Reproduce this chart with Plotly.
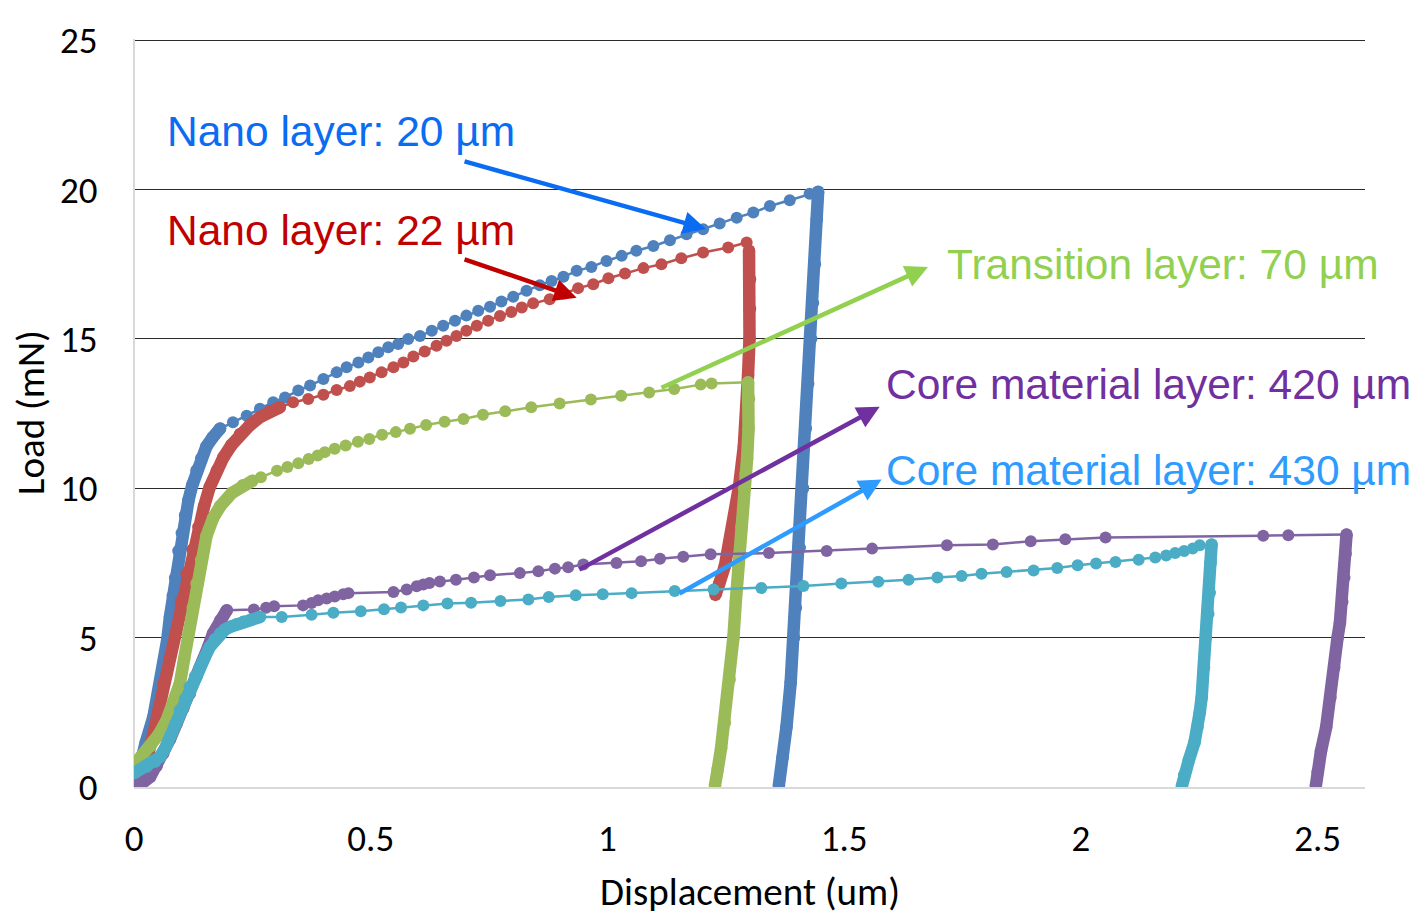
import plotly.graph_objects as go

# ---------------- data (displacement in um, load in mN) ----------------
# Nano layer 20 um (blue)
blue_load_x = [0.004, 0.013, 0.025, 0.041, 0.052, 0.062, 0.070, 0.076, 0.082, 0.087, 0.094, 0.101, 0.108, 0.115, 0.123, 0.132, 0.142, 0.153, 0.166, 0.182]
blue_load_y = [0.2, 0.9, 1.5, 2.35, 3.2, 4.0, 4.9, 5.7, 6.4, 7.0, 7.9, 8.5, 9.1, 9.6, 10.1, 10.6, 11.0, 11.4, 11.7, 12.0]
blue_mid_x = [0.209, 0.238, 0.266, 0.294, 0.319, 0.347, 0.372, 0.400, 0.428, 0.449, 0.474, 0.495, 0.516, 0.537, 0.558, 0.579, 0.604, 0.629, 0.653, 0.678, 0.702, 0.727, 0.752, 0.776, 0.801, 0.829, 0.857, 0.882, 0.907, 0.935, 0.966, 0.998, 1.030, 1.061, 1.097, 1.132, 1.167, 1.202, 1.237, 1.273, 1.308, 1.343, 1.385, 1.427]
blue_mid_y = [12.21, 12.43, 12.66, 12.88, 13.04, 13.27, 13.44, 13.66, 13.88, 14.05, 14.21, 14.38, 14.55, 14.72, 14.83, 15.0, 15.1, 15.27, 15.44, 15.61, 15.78, 15.94, 16.08, 16.25, 16.41, 16.61, 16.80, 16.94, 17.08, 17.28, 17.41, 17.61, 17.78, 17.95, 18.11, 18.30, 18.50, 18.67, 18.86, 19.06, 19.23, 19.45, 19.64, 19.86]
blue_unl_x = [1.445, 1.442, 1.438, 1.434, 1.430, 1.424, 1.419, 1.413, 1.406, 1.398, 1.394, 1.387, 1.378, 1.370, 1.362]
blue_unl_y = [19.93, 19.0, 17.5, 16.2, 15.0, 13.5, 12.0, 10.0, 8.0, 6.0, 5.0, 3.5, 2.0, 1.0, 0.05]

# Nano layer 22 um (red)
red_load_x = [0.003, 0.015, 0.030, 0.041, 0.052, 0.062, 0.075, 0.087, 0.099, 0.111, 0.124, 0.136, 0.148, 0.160, 0.175, 0.189, 0.206, 0.224, 0.244, 0.266, 0.287, 0.308]
red_load_y = [0.1, 0.5, 1.1, 1.79, 2.6, 3.47, 4.3, 5.14, 6.2, 7.14, 7.95, 8.7, 9.4, 10.04, 10.6, 11.04, 11.45, 11.82, 12.1, 12.38, 12.58, 12.71]
red_mid_x = [0.336, 0.368, 0.400, 0.428, 0.456, 0.477, 0.498, 0.523, 0.548, 0.569, 0.590, 0.614, 0.639, 0.660, 0.681, 0.702, 0.724, 0.748, 0.773, 0.797, 0.819, 0.843, 0.878, 0.907, 0.938, 0.970, 1.002, 1.037, 1.076, 1.114, 1.156, 1.202, 1.255, 1.294]
red_mid_y = [12.88, 12.99, 13.13, 13.29, 13.42, 13.57, 13.71, 13.88, 14.05, 14.21, 14.41, 14.58, 14.77, 14.94, 15.10, 15.27, 15.44, 15.61, 15.77, 15.90, 16.05, 16.19, 16.33, 16.52, 16.70, 16.83, 17.03, 17.19, 17.37, 17.50, 17.70, 17.89, 18.06, 18.23]
red_unl_x = [1.299, 1.301, 1.301, 1.300, 1.297, 1.294, 1.288, 1.278, 1.265, 1.248, 1.236, 1.228]
red_unl_y = [17.95, 17.0, 16.0, 15.0, 13.8, 12.7, 11.4, 10.07, 8.75, 7.4, 6.8, 6.43]

# Transition layer 70 um (green)
green_load_x = [0.0, 0.015, 0.034, 0.052, 0.069, 0.084, 0.097, 0.106, 0.115, 0.124, 0.132, 0.142, 0.153, 0.167, 0.182, 0.207, 0.230, 0.250]
green_load_y = [0.73, 1.0, 1.35, 1.75, 2.24, 2.8, 3.47, 4.3, 5.14, 6.0, 6.81, 7.6, 8.4, 9.0, 9.4, 9.85, 10.1, 10.25]
green_mid_x = [0.268, 0.302, 0.324, 0.347, 0.369, 0.388, 0.403, 0.424, 0.447, 0.473, 0.497, 0.524, 0.553, 0.583, 0.617, 0.656, 0.696, 0.737, 0.784, 0.839, 0.899, 0.965, 1.029, 1.088, 1.141, 1.197, 1.220]
green_mid_y = [10.37, 10.59, 10.71, 10.84, 10.98, 11.10, 11.21, 11.32, 11.43, 11.56, 11.65, 11.79, 11.88, 11.99, 12.12, 12.23, 12.32, 12.46, 12.58, 12.71, 12.84, 12.97, 13.10, 13.21, 13.32, 13.47, 13.51]
green_unl_x = [1.297, 1.299, 1.298, 1.295, 1.292, 1.289, 1.283, 1.276, 1.271, 1.266, 1.258, 1.248, 1.240, 1.233, 1.227]
green_unl_y = [13.55, 13.0, 12.0, 11.0, 10.5, 10.0, 8.7, 7.4, 6.2, 5.0, 3.6, 2.15, 1.3, 0.6, 0.05]

# Core material layer 420 um (purple)
purple_load_x = [0.0, 0.015, 0.034, 0.048, 0.062, 0.076, 0.090, 0.104, 0.118, 0.132, 0.146, 0.157, 0.167, 0.182, 0.196]
purple_load_y = [0.01, 0.1, 0.34, 0.7, 1.13, 1.6, 2.13, 2.63, 3.13, 3.7, 4.24, 4.7, 5.14, 5.58, 5.92]
purple_mid_x = [0.253, 0.279, 0.296, 0.357, 0.375, 0.389, 0.407, 0.424, 0.442, 0.453, 0.548, 0.576, 0.597, 0.611, 0.624, 0.646, 0.680, 0.718, 0.752, 0.815, 0.854, 0.889, 0.917, 0.949, 1.019, 1.071, 1.111, 1.160, 1.218, 1.341, 1.463, 1.559, 1.717, 1.814, 1.894, 1.967, 2.052, 2.385, 2.438]
purple_mid_y = [5.94, 6.00, 6.05, 6.08, 6.16, 6.25, 6.31, 6.38, 6.45, 6.49, 6.53, 6.61, 6.72, 6.78, 6.83, 6.88, 6.94, 7.01, 7.09, 7.16, 7.22, 7.31, 7.36, 7.45, 7.50, 7.56, 7.64, 7.71, 7.79, 7.83, 7.90, 7.98, 8.09, 8.12, 8.23, 8.29, 8.35, 8.41, 8.43]
purple_unl_x = [2.561, 2.559, 2.556, 2.552, 2.547, 2.542, 2.535, 2.527, 2.518, 2.507, 2.500, 2.496]
purple_unl_y = [8.45, 7.8, 7.0, 6.2, 5.5, 5.0, 4.0, 3.0, 2.0, 1.2, 0.5, 0.02]

# Core material layer 430 um (cyan)
cyan_load_x = [0.0, 0.027, 0.045, 0.055, 0.066, 0.076, 0.087, 0.097, 0.108, 0.118, 0.129, 0.139, 0.150, 0.160, 0.171, 0.182, 0.192, 0.203, 0.217, 0.231, 0.248, 0.266]
cyan_load_y = [0.46, 0.68, 0.85, 1.01, 1.3, 1.68, 2.1, 2.57, 2.95, 3.35, 3.7, 4.02, 4.36, 4.69, 4.95, 5.14, 5.27, 5.36, 5.45, 5.53, 5.61, 5.69]
cyan_mid_x = [0.312, 0.375, 0.421, 0.479, 0.528, 0.564, 0.611, 0.662, 0.712, 0.774, 0.833, 0.876, 0.933, 0.990, 1.051, 1.142, 1.224, 1.325, 1.414, 1.494, 1.572, 1.636, 1.697, 1.748, 1.790, 1.843, 1.900, 1.950, 1.993, 2.032, 2.073, 2.122, 2.157, 2.180, 2.199, 2.218, 2.236, 2.251]
cyan_mid_y = [5.69, 5.77, 5.83, 5.88, 5.95, 6.01, 6.08, 6.14, 6.17, 6.23, 6.28, 6.36, 6.42, 6.45, 6.49, 6.56, 6.61, 6.66, 6.73, 6.81, 6.87, 6.94, 7.01, 7.06, 7.14, 7.20, 7.25, 7.33, 7.42, 7.48, 7.53, 7.61, 7.68, 7.75, 7.83, 7.90, 7.98, 8.09]
cyan_unl_x = [2.276, 2.274, 2.272, 2.269, 2.264, 2.260, 2.255, 2.251, 2.246, 2.240, 2.228, 2.218, 2.213]
cyan_unl_y = [8.12, 7.5, 6.5, 5.8, 5.0, 4.0, 3.0, 2.5, 2.0, 1.5, 0.9, 0.4, 0.02]

series = [
    ("Nano layer: 20 µm", "#4F81BD", blue_load_x, blue_load_y, blue_mid_x, blue_mid_y, blue_unl_x, blue_unl_y),
    ("Nano layer: 22 µm", "#C0504D", red_load_x, red_load_y, red_mid_x, red_mid_y, red_unl_x, red_unl_y),
    ("Transition layer: 70 µm", "#9BBB59", green_load_x, green_load_y, green_mid_x, green_mid_y, green_unl_x, green_unl_y),
    ("Core material layer: 420 µm", "#8064A2", purple_load_x, purple_load_y, purple_mid_x, purple_mid_y, purple_unl_x, purple_unl_y),
    ("Core material layer: 430 µm", "#4BACC6", cyan_load_x, cyan_load_y, cyan_mid_x, cyan_mid_y, cyan_unl_x, cyan_unl_y),
]

# annotation labels: text, colour, anchor (x, y) in data units
labels = [
    ("Nano layer: 20 µm", "#0A6CF2", 0.066, 21.95),
    ("Nano layer: 22 µm", "#C00000", 0.066, 18.62),
    ("Transition layer: 70 µm", "#92D050", 1.713, 17.50),
    ("Core material layer: 420 µm", "#7030A0", 1.584, 13.49),
    ("Core material layer: 430 µm", "#2E9BFF", 1.584, 10.58),
]
# arrows: colour, tail (x, y), head (x, y)
arrows = [
    ("#0A6CF2", 0.695, 20.96, 1.208, 18.68),
    ("#C00000", 0.695, 17.68, 0.935, 16.38),
    ("#92D050", 1.111, 13.34, 1.677, 17.41),
    ("#7030A0", 0.9375, 7.25, 1.575, 12.73),
    ("#2E9BFF", 1.149, 6.45, 1.579, 10.29),
]

fig = go.Figure()
for name, col, lx, ly, mx, my, ux, uy in series:
    # dense (thick) parts: loading and unloading
    fig.add_trace(go.Scatter(
        x=lx + [None] + ux, y=ly + [None] + uy, mode="lines+markers",
        line=dict(color=col, width=12.5), marker=dict(color=col, size=12.5),
        showlegend=False, hoverinfo="skip", name=name))
    # sparse dotted plateau
    fig.add_trace(go.Scatter(
        x=[lx[-1]] + mx + [ux[0]], y=[ly[-1]] + my + [uy[0]], mode="lines+markers",
        line=dict(color=col, width=2.5), marker=dict(color=col, size=12),
        showlegend=False, name=name))

annotations = []
for txt, col, x, y in labels:
    annotations.append(dict(x=x, y=y, xref="x", yref="y", text=txt, showarrow=False,
                            xanchor="left", yanchor="middle",
                            font=dict(family="Liberation Sans, Arial, sans-serif", size=42.5, color=col)))
for col, tx, ty, hx, hy in arrows:
    annotations.append(dict(x=hx, y=hy, ax=tx, ay=ty, xref="x", yref="y", axref="x", ayref="y",
                            text="", showarrow=True, arrowhead=2, arrowsize=1, arrowwidth=4.5,
                            arrowcolor=col, standoff=0, startstandoff=0))
annotations.append(dict(x=0.5, y=0, xref="paper", yref="paper", text="Displacement (um)",
                        showarrow=False, yshift=-104, yanchor="middle",
                        font=dict(family="Carlito, Lato, sans-serif", size=39, color="#000")))
annotations.append(dict(x=0, y=0.5, xref="paper", yref="paper", text="Load (mN)",
                        showarrow=False, xshift=-104, xanchor="center", textangle=-90,
                        font=dict(family="Carlito, Lato, sans-serif", size=39, color="#000")))

# the page body adds an 8 px offset, so margins are reduced by 8 px on the left/top
fig.update_layout(
    width=1417, height=913,
    margin=dict(l=126, r=60, t=31, b=134),
    paper_bgcolor="white", plot_bgcolor="white",
    annotations=annotations,
    font=dict(family="Carlito, Lato, sans-serif", size=37, color="#000"),
)
fig.update_xaxes(range=[0, 2.6], tickvals=[0, 0.5, 1, 1.5, 2, 2.5], ticktext=["0", "0.5", "1", "1.5", "2", "2.5"],
                 showgrid=False, zeroline=True, zerolinecolor="#D9D9D9", zerolinewidth=1.5,
                 showline=True, linecolor="#D9D9D9", linewidth=1.5,
                 ticks="outside", ticklen=18, tickcolor="rgba(0,0,0,0)", automargin=False)
fig.update_yaxes(range=[0, 25.04], tickvals=[0, 5, 10, 15, 20, 25],
                 showgrid=True, gridcolor="#2b2b2b", gridwidth=1,
                 zeroline=True, zerolinecolor="#D9D9D9", zerolinewidth=1.5,
                 ticks="outside", ticklen=28, tickcolor="rgba(0,0,0,0)", automargin=False)

fig.write_html("out.html")
